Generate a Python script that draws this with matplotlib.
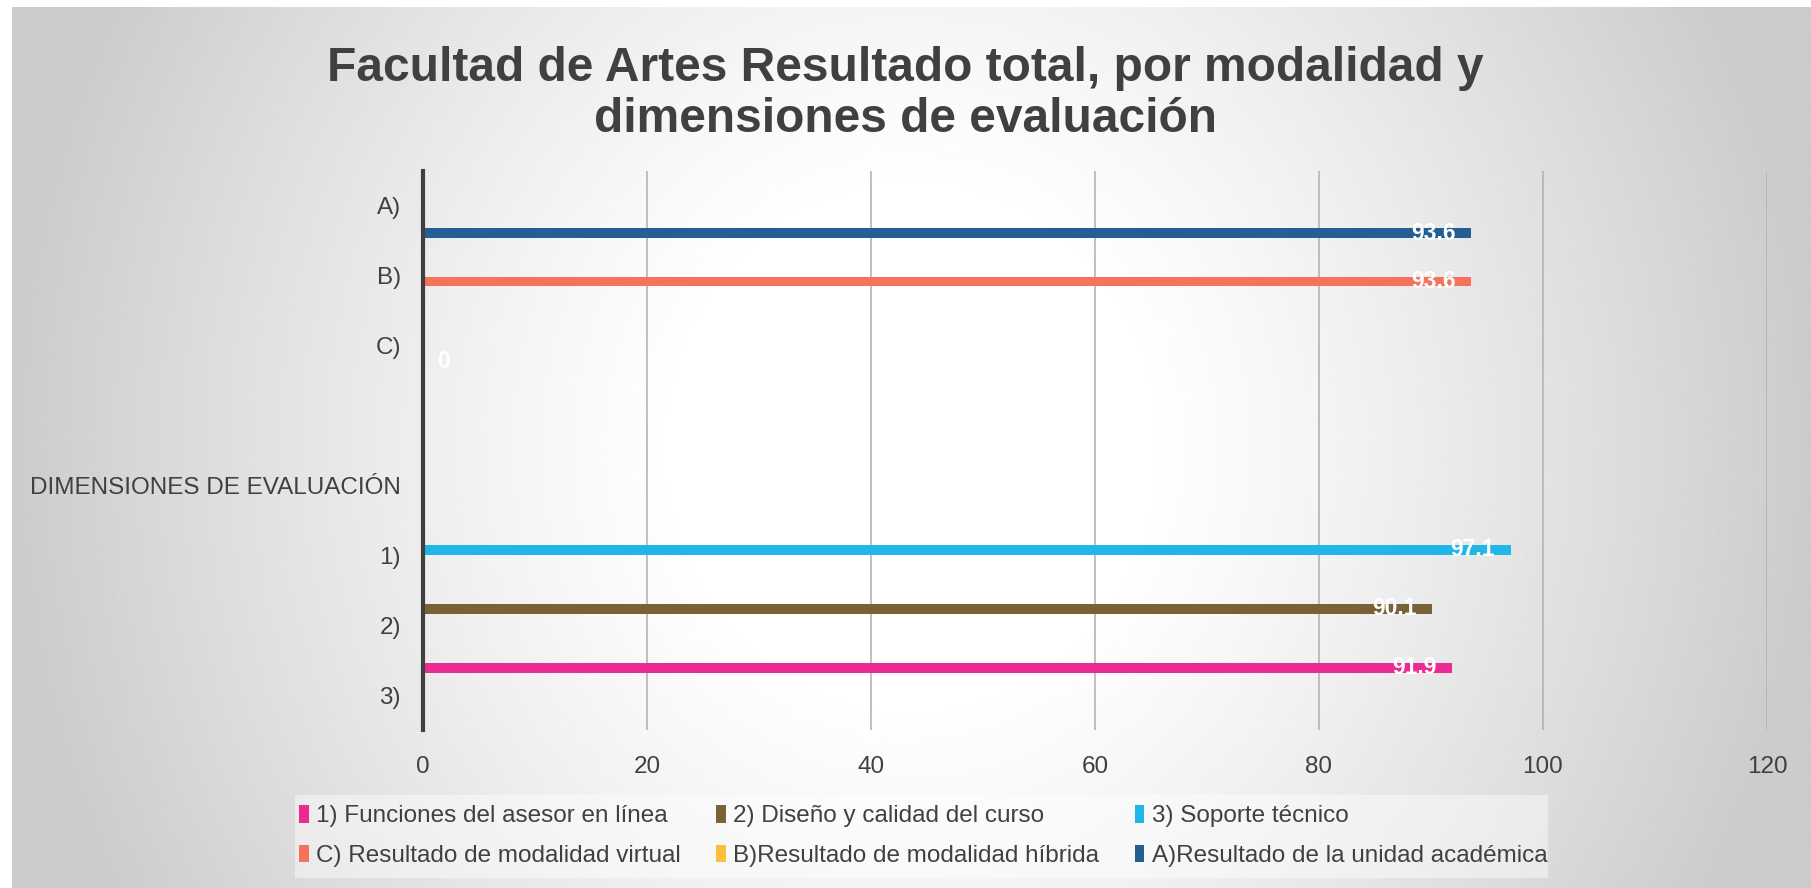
import numpy as np
import matplotlib
matplotlib.use("Agg")
import matplotlib.pyplot as plt
from matplotlib.patches import Patch, Rectangle

plt.rcParams['font.family'] = ['Liberation Sans', 'DejaVu Sans']

# categories, top to bottom (one blank row between C) and the dimensions block)
categories = ["A)", "B)", "C)", "", "DIMENSIONES DE EVALUACIÓN", "1)", "2)", "3)"]

series_names = [
    "1) Funciones del asesor en línea",
    "2) Diseño y calidad del curso",
    "3) Soporte técnico",
    "C) Resultado de modalidad virtual",
    "B)Resultado de modalidad híbrida",
    "A)Resultado de la unidad académica",
]
series_colors = ["#EC2A94", "#7A6237", "#20B6E8", "#F4735A", "#FDBE3C", "#235F92"]

nan = np.nan
funciones = [nan, nan, nan, nan, nan, nan, nan, 91.9]
diseno    = [nan, nan, nan, nan, nan, nan, 90.1, nan]
soporte   = [nan, nan, nan, nan, nan, 97.1, nan, nan]
virtual   = [nan, 93.6, nan, nan, nan, nan, nan, nan]
hibrida   = [nan, nan, 0.0, nan, nan, nan, nan, nan]
unidad    = [93.6, nan, nan, nan, nan, nan, nan, nan]
series_values = [funciones, diseno, soporte, virtual, hibrida, unidad]

W, H = 1811, 888
fig = plt.figure(figsize=(W / 100, H / 100), dpi=100, facecolor="white")

# grey background, white in the middle, darker to the sides
bg = fig.add_axes([12 / W, 0, 1 - 12 / W, 1 - 7 / H], zorder=-5)
gx, gy = np.meshgrid(np.linspace(0, 1, 600), np.linspace(0, 1, 300))
d = np.sqrt(((gx - 0.5) / 0.5) ** 2 + ((gy - 0.5) / 1.1) ** 2)
shade = 1.0 - 0.2 * np.clip((d - 0.25) / 0.75, 0, 1) ** 1.2
bg.imshow(shade, cmap="gray", vmin=0, vmax=1, aspect="auto",
          extent=[0, 1, 0, 1], origin="upper", interpolation="bilinear")
bg.axis("off")

ax = fig.add_axes([423 / W, 1 - 730 / H, (1767 - 423) / W, (730 - 171) / H])
ax.patch.set_alpha(0)

y = np.arange(len(categories))
step = 0.155
for i, (vals, name, col) in enumerate(zip(series_values, series_names, series_colors)):
    pos = y + (i - 2.5) * step
    ax.barh(pos, vals, height=0.135, color=col, label=name, zorder=3)
    for p, v in zip(pos, vals):
        if np.isnan(v):
            continue
        if v == 0:
            ax.annotate(f"{v:g}", (v, p), xytext=(10, 0), textcoords="offset points",
                        ha="left", va="center", color="white", fontsize=16.5,
                        fontweight="bold", zorder=4)
        else:
            ax.annotate(f"{v:g}", (v, p), xytext=(-11, 0), textcoords="offset points",
                        ha="right", va="center", color="white", fontsize=16.5,
                        fontweight="bold", zorder=4)

ax.set_ylim(len(categories) - 0.5, -0.5)
ax.set_xlim(0, 120)
ax.set_xticks(range(0, 121, 20))
ax.set_yticks(y)
ax.set_yticklabels(categories)
ax.grid(axis="x", color="#b4b4b4", linewidth=1.2, zorder=0)
for s in ["top", "right", "bottom"]:
    ax.spines[s].set_visible(False)
ax.spines["left"].set_color("#404040")
ax.spines["left"].set_linewidth(3)
ax.spines["left"].set_zorder(5)
ax.tick_params(axis="both", length=0, labelsize=17.5, labelcolor="#404040")
ax.tick_params(axis="y", pad=16)
ax.tick_params(axis="x", pad=19)

fig.text(0.5, 1 - 94 / H, "Facultad de Artes Resultado total, por modalidad y\ndimensiones de evaluación",
         ha="center", va="center", fontsize=34.5, fontweight="bold", color="#404040",
         linespacing=1.15)

# legend background box
fig.patches.append(Rectangle((295 / W, 1 - 878 / H), (1548 - 295) / W, 83 / H,
                             transform=fig.transFigure, facecolor="white",
                             alpha=0.45, edgecolor="none", zorder=-1))

handles = [Patch(facecolor=c, edgecolor="none") for c in series_colors]
order = [0, 3, 1, 4, 2, 5]
leg = fig.legend([handles[k] for k in order], [series_names[k] for k in order],
                 ncol=3, loc="center left", bbox_to_anchor=(280 / W, 1 - 836 / H),
                 fontsize=17.5, frameon=False, handlelength=0.4, handleheight=0.75,
                 handletextpad=0.3, columnspacing=1.45, labelspacing=0.7,
                 borderpad=0.3)
for t in leg.get_texts():
    t.set_color("#404040")

fig.savefig("out.png", dpi=100, facecolor=fig.get_facecolor())
